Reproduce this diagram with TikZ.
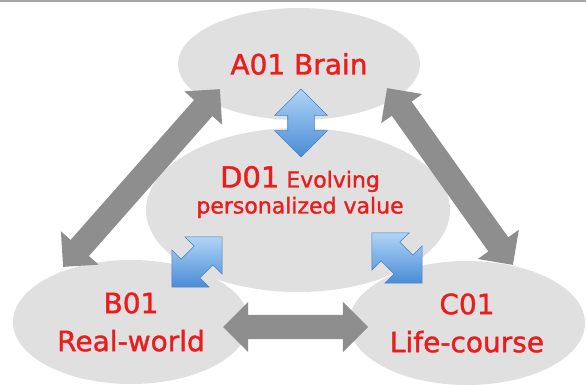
\documentclass[tikz,border=0pt]{standalone}
\usepackage{fontspec}
\setmainfont{DejaVu Sans}[FakeBold=1.3]
\usetikzlibrary{shapes.geometric,shapes.arrows}

\definecolor{bubblegrey}{RGB}{224,224,224}
\definecolor{labelred}{RGB}{236,28,28}
\definecolor{arrowgrey}{RGB}{142,142,142}
\definecolor{rulegrey}{RGB}{165,165,165}
\definecolor{bluelight}{RGB}{176,212,246}
\definecolor{bluedark}{RGB}{74,140,214}
\definecolor{blueedge}{RGB}{70,128,196}

\begin{document}
\begin{tikzpicture}[x=1pt,y=-1pt,
		bubble/.style={shape=ellipse,fill=bubblegrey,inner sep=0pt,text=labelred,align=center,font=\fontsize{28}{38}\selectfont},
		greyarrow/.style={shape=double arrow,sloped,fill=arrowgrey,inner xsep=0pt,inner ysep=12pt,double arrow head extend=13pt},
		bluearrow/.style={shape=double arrow,sloped,top color=bluelight,bottom color=bluedark,draw=blueedge,line width=0.6pt,inner xsep=0pt,inner ysep=13pt,double arrow head extend=13pt}]
				\useasboundingbox (0,0) rectangle (586,385);
				\draw[rulegrey,line width=2pt] (0,1) -- (586,1);
				
				\node[bubble,minimum width=242pt,minimum height=112pt] (A) at (299,64) {A01 Brain};
				\node[bubble,minimum width=304pt,minimum height=164pt] (D) at (298,210) {};
				\node[bubble,minimum width=236pt,minimum height=124pt] (B) at (131,322) {B01\\Real-world};
				\node[bubble,minimum width=236pt,minimum height=124pt] (C) at (467,323) {C01\\Life-course};
				
				% arrow ends
				\coordinate (AB-a) at (220,89);
				\coordinate (AB-b) at (63,267);
				\coordinate (AC-a) at (387,88);
				\coordinate (AC-c) at (513,265);
				\coordinate (BC-b) at (223,327);
				\coordinate (BC-c) at (368,327);
				\coordinate (AD-a) at (301,89);
				\coordinate (AD-d) at (301,157);
				\coordinate (DB-d) at (222,237);
				\coordinate (DB-b) at (172,287);
				\coordinate (DC-d) at (372,233);
				\coordinate (DC-c) at (422,283);
				
				\path (AB-b) -- node[greyarrow,minimum height=237pt] {} (AB-a);
				\path (AC-c) -- node[greyarrow,minimum height=217pt] {} (AC-a);
				\path (BC-b) -- node[greyarrow,minimum height=145pt] {} (BC-c);
				\path (AD-d) -- node[bluearrow,minimum height=68pt] {} (AD-a);
				\path (DB-b) -- node[bluearrow,minimum height=71pt] {} (DB-d);
				\path (DC-c) -- node[bluearrow,minimum height=71pt] {} (DC-d);
				
				\node[text=labelred,align=center,font=\fontsize{22}{26}\selectfont] (D-text) at (300,192) {{\fontsize{29}{29}\selectfont D01} Evolving\\personalized value};
			\end{tikzpicture}
\end{document}
